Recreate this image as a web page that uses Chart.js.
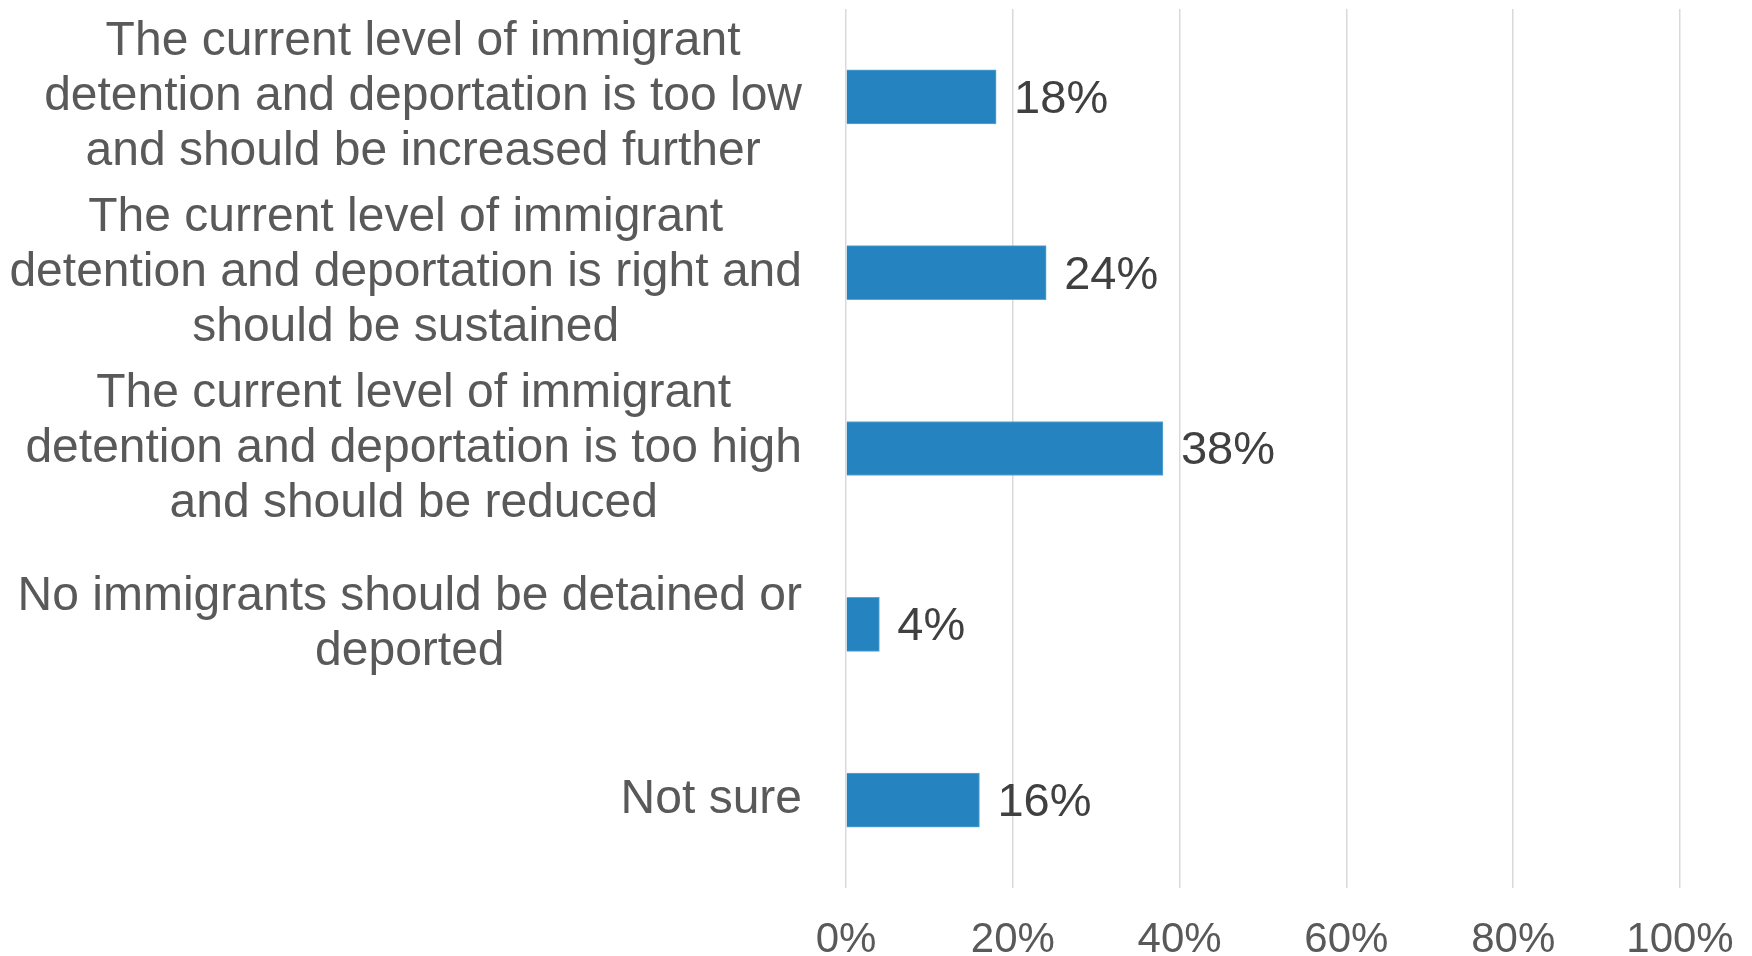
<!DOCTYPE html>
<html>
<head>
<meta charset="utf-8">
<script src="https://cdn.jsdelivr.net/npm/chart.js@4/dist/chart.umd.min.js"></script>
<style>
  body { margin: 0; background: #fff; }
  #wrap { width: 1752px; height: 956px; }
</style>
</head>
<body>
<div id="wrap"><canvas id="chart"></canvas></div>
<script>
// categories (multi-line labels) and values in percent
const categories = [
    ["The current level of immigrant", "detention and deportation is too low", "and should be increased further"],
    ["The current level of immigrant", "detention and deportation is right and", "should be sustained"],
    ["The current level of immigrant", "detention and deportation is too high", "and should be reduced"],
    ["No immigrants should be detained or", "deported"],
    ["Not sure"]
];
const values = [18, 24, 38, 4, 16];
const tickValues = [0, 20, 40, 60, 80, 100];

const fontFamily = "'Liberation Sans', Arial, sans-serif";

// etiquetas del eje y: cada bloque alineado a la derecha, lineas centradas
const categoryLabels = {
    id: 'categoryLabels',
    afterDraw(chart) {
        const ctx = chart.ctx;
        const yScale = chart.scales.y;
        const right = chart.chartArea.left - 44;
        const lineH = 55;
        ctx.save();
        ctx.font = "48px " + fontFamily;
        ctx.fillStyle = '#595959';
        ctx.textAlign = 'center';
        ctx.textBaseline = 'middle';
        categories.forEach((lines, i) => {
            const yc = yScale.getPixelForTick(i);
            const widest = Math.max(...lines.map((l) => ctx.measureText(l).width));
            const cx = right - widest / 2;
            const y0 = yc - (lines.length - 1) * lineH / 2;
            lines.forEach((l, j) => ctx.fillText(l, cx, y0 + j * lineH));
        });
        ctx.restore();
    }
};

// dibuja el porcentaje al final de cada barra
const barLabels = {
    id: 'barLabels',
    afterDatasetsDraw(chart) {
        const ctx = chart.ctx;
        const meta = chart.getDatasetMeta(0);
        ctx.save();
        ctx.font = "47px " + fontFamily;
        ctx.fillStyle = '#404040';
        ctx.textAlign = 'left';
        ctx.textBaseline = 'middle';
        meta.data.forEach((bar, i) => {
            ctx.fillText(values[i] + '%', bar.x + 18, bar.y + 3);
        });
        ctx.restore();
    }
};

new Chart(document.getElementById("chart"), {
    type: "bar",
    data: {
        labels: categories,
        datasets: [{
            data: values,
            backgroundColor: '#2584C0',
            borderColor: '#5DA5D3',
            borderWidth: 1,
            barThickness: 54,
        }],
    },
    plugins: [barLabels, categoryLabels],
    options: {
        indexAxis: 'y',
        responsive: true,
        maintainAspectRatio: false,
        animation: false,
        layout: {
            padding: { left: 11, right: 72, top: 9, bottom: 0 },
        },
        scales: {
            x: {
                min: 0,
                max: 100,
                afterBuildTicks: (axis) => {
                    axis.ticks = tickValues.map((v) => ({ value: v }));
                },
                afterFit: (axis) => {
                    axis.height = 68;
                    axis.paddingLeft = 0;
                    axis.paddingRight = 0;
                },
                ticks: {
                    color: '#595959',
                    padding: 31,
                    font: { family: fontFamily, size: 42, lineHeight: 1.0 },
                    callback: (v) => v + '%',
                },
                grid: {
                    color: '#D9D9D9',
                    lineWidth: 1.5,
                    drawTicks: false,
                },
                border: { display: false },
            },
            y: {
                afterFit: (axis) => {
                    axis.width = 835;
                    axis.paddingTop = 0;
                    axis.paddingBottom = 0;
                },
                ticks: { display: false },
                grid: { display: false, drawTicks: false },
                border: { display: false },
            },
        },
        plugins: {
            legend: { display: false },
            tooltip: { enabled: false },
        },
    },
});
</script>
</body>
</html>
